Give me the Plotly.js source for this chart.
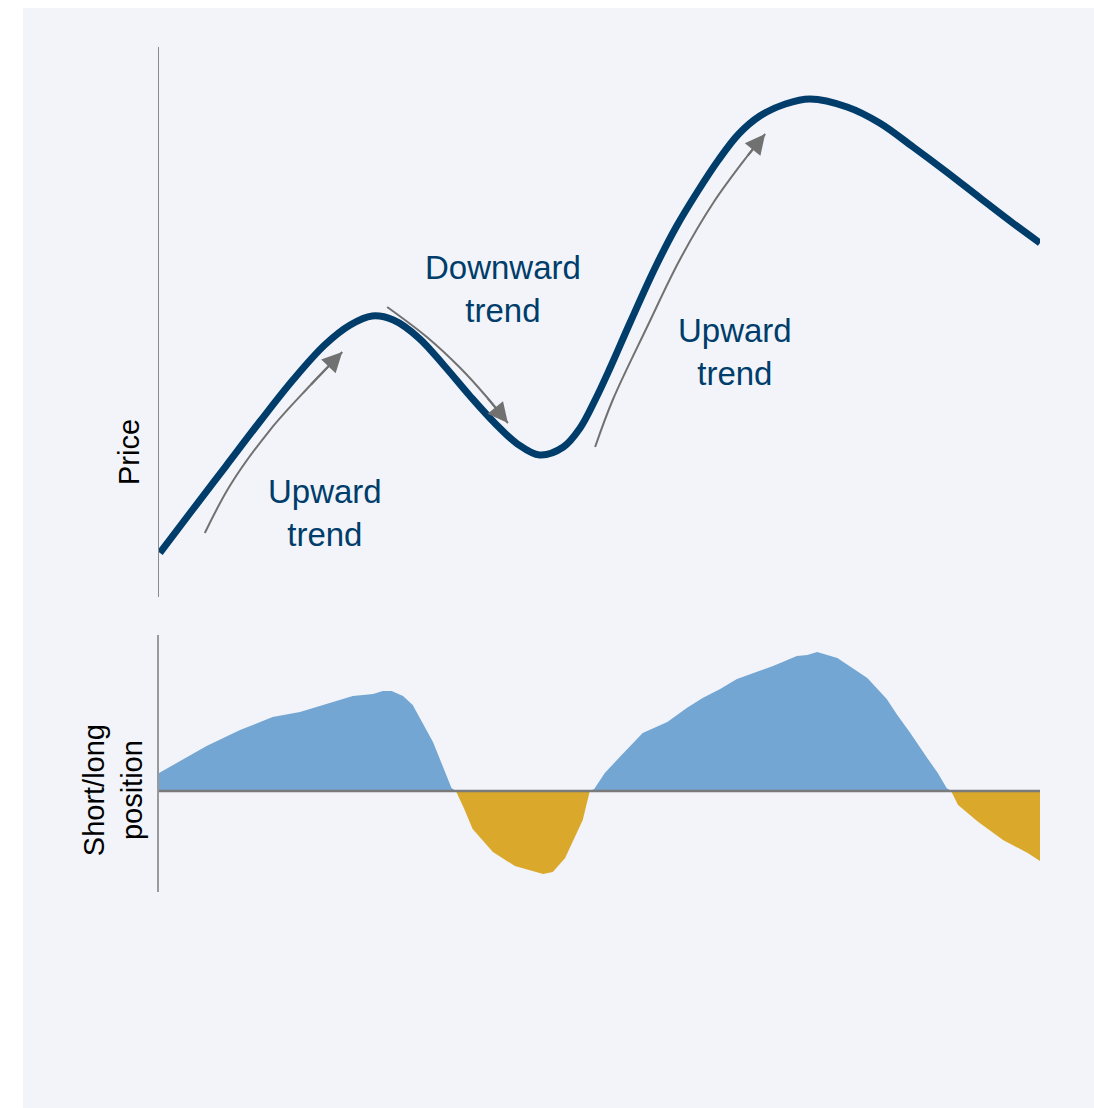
<!DOCTYPE html>
<html>
<head>
<meta charset="utf-8">
<script src="https://cdn.plot.ly/plotly-3.0.1.min.js"></script>
<style>
  html, body { margin: 0; padding: 0; background: #ffffff; }
  #chart { position: absolute; left: 23px; top: 8px; width: 1071px; height: 1100px; }
</style>
</head>
<body>
<div id="chart"></div>
<script>
// ---- Price series (time index 0..100, arbitrary price units) ----
var priceT = [0.1, 3.7, 7.6, 11.5, 15.2, 18.8, 21.7, 24.2, 26.6, 29.5, 32.5, 35.3, 38.1, 40.7, 43.2, 45.9, 47.8, 49.5, 51.2, 53.5, 56.3, 58.7, 61.1, 63.5, 65.8, 68.2, 71.1, 73.9, 78.1, 81.8, 85.6, 89.4, 93.2, 96.9, 100];
var priceV = [8.8, 17.2, 26.2, 35.2, 43.4, 50.4, 54.4, 56.2, 55.4, 51.8, 46.0, 40.2, 34.8, 30.6, 28.4, 30.0, 33.8, 39.4, 45.8, 55.0, 65.8, 74.0, 81.0, 87.4, 92.6, 96.2, 98.6, 99.6, 98.0, 94.8, 90.0, 85.0, 79.8, 74.8, 70.8];

// ---- Short/long position series ----
var posT = [0, 3.5, 5.4, 9.2, 12.9, 16.0, 18.6, 22.0, 24.3, 25.4, 26.4, 27.7, 28.8, 31.1, 33.2, 33.7, 34.6, 35.6, 37.9, 40.4, 43.6, 44.7, 46.1, 48.1, 48.9, 49.4, 50.6, 52.3, 54.9, 57.7, 59.9, 61.7, 63.7, 65.6, 69.7, 72.4, 73.6, 74.7, 77.0, 80.4, 82.6, 83.8, 85.2, 87.2, 88.4, 89.4, 89.9, 90.7, 93.0, 95.8, 98.6, 100];
var posV = [18, 36, 45, 61, 74, 79, 86, 95, 97, 100, 100, 95, 86, 49, 3, 0, -17, -38, -61, -75, -83, -81, -67, -29, 0, 2, 18, 34, 58, 69, 83, 93, 102, 112, 125, 135, 136, 139, 133, 113, 92, 76, 59, 33, 18, 3, 0, -14, -31, -49, -62, -70];

// ---- Trend arrows (drawn along the price curve) ----
var arrow1T = [5.2, 8.1, 12.6, 17.1, 20.8];
var arrow1V = [12.8, 22.4, 33.4, 42.2, 49.0];
var arrow2T = [25.9, 30.4, 34.2, 37.2, 39.6];
var arrow2V = [58.0, 52.0, 45.8, 40.0, 34.8];
var arrow3T = [49.5, 51.5, 55.4, 59.1, 62.9, 66.7, 68.8];
var arrow3V = [30.0, 39.4, 54.0, 67.4, 78.8, 88.0, 92.6];

// ---- Labels ----
var trendLabels = ["Upward<br>trend", "Downward<br>trend", "Upward<br>trend"];
var trendLabelT = [18.8, 39.0, 65.4];
var trendLabelV = [16.9, 61.6, 49.0];
var priceTitle = "Price";
var positionTitle = "Short/long<br>position";

var NAVY = "#003d6b";
var GREY = "#717171";
var FONT = "Liberation Sans, Arial, sans-serif";

var longV = posV.map(function (v) { return Math.max(v, 0); });
var shortV = posV.map(function (v) { return Math.min(v, 0); });

var traces = [
  { x: posT, y: longV, xaxis: "x2", yaxis: "y2", mode: "lines", fill: "tozeroy",
    fillcolor: "#74a6d3", line: { width: 0, color: "#74a6d3" }, hoverinfo: "skip" },
  { x: posT, y: shortV, xaxis: "x2", yaxis: "y2", mode: "lines", fill: "tozeroy",
    fillcolor: "#daa92c", line: { width: 0, color: "#daa92c" }, hoverinfo: "skip" }
];

var arrows = [[arrow1T, arrow1V], [arrow2T, arrow2V], [arrow3T, arrow3V]];
var annotations = [];
arrows.forEach(function (a) {
  var t = a[0], v = a[1], n = t.length;
  traces.push({ x: t, y: v, xaxis: "x", yaxis: "y", mode: "lines",
    line: { color: GREY, width: 2, shape: "spline", smoothing: 1 }, hoverinfo: "skip" });
  annotations.push({ x: t[n - 1], y: v[n - 1], ax: t[n - 2], ay: v[n - 2], xref: "x", yref: "y",
    axref: "x", ayref: "y", text: "", showarrow: true, arrowhead: 2, arrowsize: 2,
    arrowwidth: 2, arrowcolor: GREY, standoff: 0 });
});

traces.push({ x: priceT, y: priceV, xaxis: "x", yaxis: "y", mode: "lines",
  line: { color: NAVY, width: 7, shape: "spline", smoothing: 1 }, hoverinfo: "skip" });

trendLabels.forEach(function (s, i) {
  annotations.push({ x: trendLabelT[i], y: trendLabelV[i], xref: "x", yref: "y", text: s,
    showarrow: false, xanchor: "center", yanchor: "middle", align: "center",
    font: { family: FONT, size: 33, color: NAVY } });
});

annotations.push({ x: -0.034, y: 29, xref: "paper", yref: "y", text: priceTitle, textangle: -90,
  showarrow: false, xanchor: "center", yanchor: "middle", font: { family: FONT, size: 29, color: "#000000" } });
annotations.push({ x: -0.052, y: 1, xref: "paper", yref: "y2", text: positionTitle, textangle: -90,
  showarrow: false, xanchor: "center", yanchor: "middle", align: "center",
  font: { family: FONT, size: 29, color: "#000000" } });

var hiddenX = { range: [0, 100], visible: false, showgrid: false, zeroline: false, fixedrange: true };

var layout = {
  width: 1071, height: 1100, autosize: false,
  margin: { l: 136, r: 54, t: 39, b: 216, pad: 0 },
  paper_bgcolor: "#f2f4f9", plot_bgcolor: "rgba(0,0,0,0)",
  showlegend: false,
  font: { family: FONT },
  xaxis: Object.assign({ anchor: "y" }, hiddenX),
  xaxis2: Object.assign({ anchor: "y2" }, hiddenX),
  yaxis: { domain: [0.3491, 1], range: [0, 110], showline: true, linecolor: "#8a8a8a", linewidth: 1.5,
    showticklabels: false, ticks: "", showgrid: false, zeroline: false, fixedrange: true },
  yaxis2: { domain: [0, 0.3041], range: [-101, 156], showline: true, linecolor: "#9a9a9a", linewidth: 2,
    showticklabels: false, ticks: "", showgrid: false, zeroline: false, fixedrange: true },
  shapes: [
    { type: "line", xref: "x2 domain", yref: "y2", x0: 0, x1: 1, y0: 0, y1: 0, layer: "above",
      line: { color: "#7a7a7a", width: 2.5 } }
  ],
  annotations: annotations
};

Plotly.newPlot("chart", traces, layout, { displayModeBar: false, staticPlot: true });
</script>
</body>
</html>
